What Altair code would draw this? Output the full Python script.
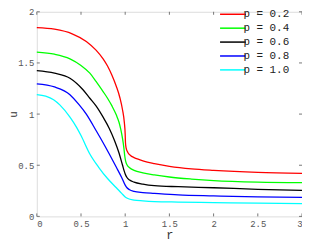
import altair as alt
import pandas as pd

labels = ["p = 0.2", "p = 0.4", "p = 0.6", "p = 0.8", "p = 1.0"]
colors = ["#ff0000", "#00ff00", "#000000", "#0000ff", "#00ffff"]

r_02 = [0, 0.2, 0.4, 0.56, 0.67, 0.75, 0.8, 0.85, 0.9, 0.94, 0.97, 0.99, 1.0, 1.003, 1.01, 1.03, 1.06, 1.1, 1.16, 1.25, 1.33, 1.5, 1.75, 2.0, 2.5, 3.0]
u_02 = [1.845, 1.83, 1.785, 1.71, 1.625, 1.54, 1.47, 1.38, 1.27, 1.16, 1.04, 0.92, 0.80, 0.72, 0.67, 0.625, 0.595, 0.575, 0.555, 0.53, 0.515, 0.49, 0.465, 0.45, 0.43, 0.42]

r_04 = [0, 0.2, 0.375, 0.5, 0.6, 0.67, 0.75, 0.8, 0.85, 0.9, 0.93, 0.95, 0.97, 0.985, 0.995, 1.005, 1.02, 1.05, 1.1, 1.2, 1.33, 1.5, 1.75, 2.0, 2.5, 3.0]
u_04 = [1.605, 1.585, 1.54, 1.475, 1.40, 1.32, 1.22, 1.155, 1.08, 0.99, 0.92, 0.85, 0.76, 0.67, 0.59, 0.54, 0.505, 0.475, 0.45, 0.425, 0.405, 0.385, 0.365, 0.35, 0.335, 0.33]

r_06 = [0, 0.2, 0.375, 0.52, 0.6, 0.67, 0.75, 0.82, 0.88, 0.93, 0.97, 0.99, 1.0, 1.02, 1.05, 1.1, 1.2, 1.33, 1.6, 2.0, 2.5, 3.0]
u_06 = [1.425, 1.40, 1.35, 1.24, 1.155, 1.08, 0.97, 0.86, 0.74, 0.62, 0.50, 0.44, 0.415, 0.38, 0.355, 0.335, 0.315, 0.30, 0.29, 0.28, 0.265, 0.255]

r_08 = [0, 0.2, 0.375, 0.48, 0.56, 0.67, 0.75, 0.82, 0.9, 0.96, 1.0, 1.02, 1.05, 1.1, 1.2, 1.33, 1.6, 2.0, 2.5, 3.0]
u_08 = [1.295, 1.265, 1.19, 1.09, 1.00, 0.84, 0.72, 0.61, 0.48, 0.38, 0.305, 0.28, 0.26, 0.245, 0.233, 0.225, 0.21, 0.20, 0.19, 0.185]

r_10 = [0, 0.1, 0.19, 0.26, 0.375, 0.45, 0.5, 0.6, 0.7, 0.8, 0.9, 0.96, 1.0, 1.03, 1.1, 1.2, 1.33, 1.6, 2.0, 2.5, 3.0]
u_10 = [1.19, 1.175, 1.14, 1.09, 0.97, 0.87, 0.79, 0.61, 0.48, 0.37, 0.28, 0.225, 0.19, 0.175, 0.16, 0.152, 0.145, 0.14, 0.135, 0.13, 0.125]

x_ticks = [0, 0.5, 1, 1.5, 2, 2.5, 3]
y_ticks = [0, 0.5, 1, 1.5, 2]

series = [(labels[0], r_02, u_02), (labels[1], r_04, u_04), (labels[2], r_06, u_06),
          (labels[3], r_08, u_08), (labels[4], r_10, u_10)]
rows = []
for name, rs, us in series:
    for i, (rv, uv) in enumerate(zip(rs, us)):
        rows.append({"p": name, "r": rv, "u": uv, "i": i})
df = pd.DataFrame(rows)

W, H = 267, 206
FONT = "Liberation Mono"

xs = alt.Scale(domain=[0, 3], nice=False)
ys = alt.Scale(domain=[0, 2], nice=False)

lines = alt.Chart(df).mark_line(strokeWidth=1.3, interpolate="monotone").encode(
    x=alt.X("r:Q", scale=xs, title="r",
            axis=alt.Axis(values=x_ticks, ticks=False, domain=False, grid=False,
                          labelFont=FONT, labelFontSize=9, labelColor="#555",
                          labelPadding=3, titleFont=FONT, titleFontSize=12,
                          titleFontWeight="normal", titleColor="#333", titlePadding=1,
                          labelExpr="datum.value")),
    y=alt.Y("u:Q", scale=ys, title="u",
            axis=alt.Axis(values=y_ticks, ticks=False, domain=False, grid=False,
                          labelFont=FONT, labelFontSize=9, labelColor="#555",
                          labelPadding=3, titleFont=FONT, titleFontSize=11,
                          titleFontWeight="normal", titleColor="#333",
                          titleX=-23, titleY=H / 2, titleAngle=270,
                          titleBaseline="middle", titleAlign="center",
                          labelExpr="datum.value")),
    color=alt.Color("p:N", scale=alt.Scale(domain=labels, range=colors), sort=labels,
                    legend=alt.Legend(title=None, orient="none", legendX=190, legendY=-5,
                                      labelFont=FONT, labelFontSize=11, labelColor="#222",
                                      symbolType="M-2,0H2", symbolSize=169,
                                      symbolStrokeWidth=1.5, labelOffset=3,
                                      rowPadding=1, padding=0)),
    order="i:Q",
)

xt = pd.DataFrame({"v": x_ticks})
yt = pd.DataFrame({"v": y_ticks})
tc = "#777"
xb = alt.Chart(xt).mark_rule(color=tc, strokeWidth=1).encode(
    x=alt.X("v:Q", scale=xs), y=alt.value(H), y2=alt.value(H - 3))
xtop = alt.Chart(xt).mark_rule(color=tc, strokeWidth=1).encode(
    x=alt.X("v:Q", scale=xs), y=alt.value(0), y2=alt.value(3))
yl = alt.Chart(yt).mark_rule(color=tc, strokeWidth=1).encode(
    y=alt.Y("v:Q", scale=ys), x=alt.value(0), x2=alt.value(3))
yr = alt.Chart(yt).mark_rule(color=tc, strokeWidth=1).encode(
    y=alt.Y("v:Q", scale=ys), x=alt.value(W), x2=alt.value(W - 3))

chart = alt.layer(xb, xtop, yl, yr, lines).properties(
    width=W, height=H,
    autosize=alt.AutoSizeParams(type="none"),
    padding={"left": 29, "top": 3, "right": 0, "bottom": 30},
).configure_view(stroke="#888", strokeWidth=1).configure(background="white")

chart.save("out.html", embed_options={"renderer": "svg", "actions": False})
